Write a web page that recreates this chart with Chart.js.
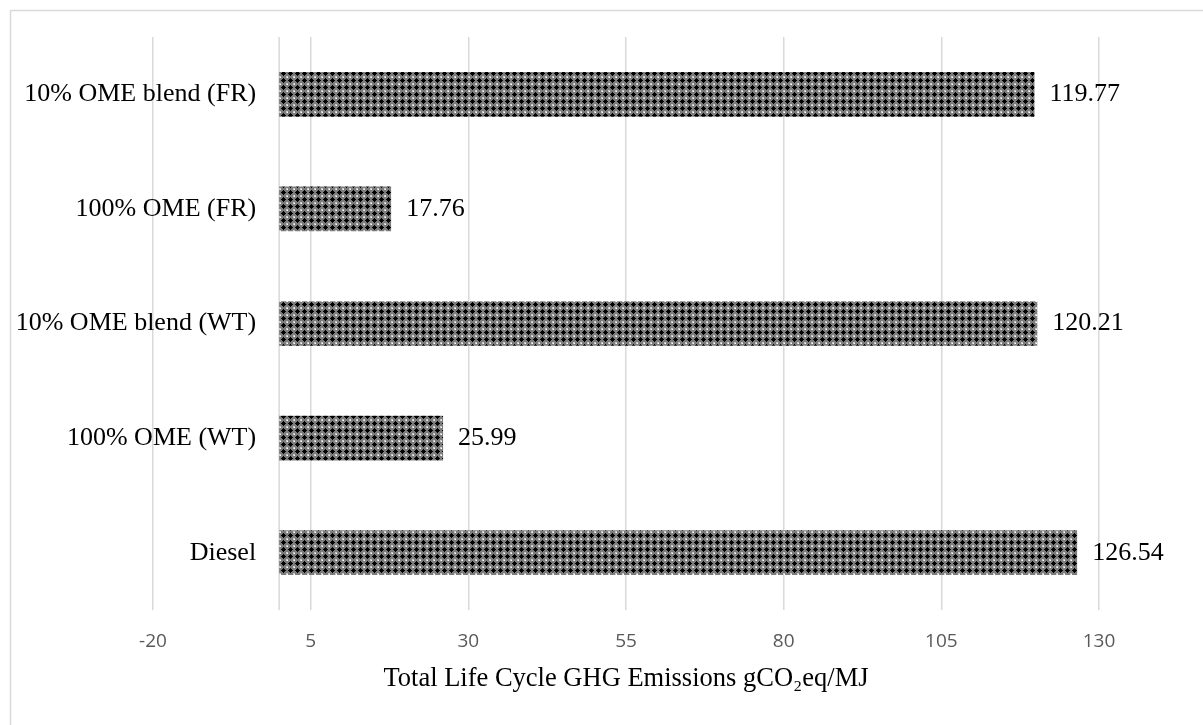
<!DOCTYPE html>
<html>
<head>
<meta charset="utf-8">
<script src="https://cdn.jsdelivr.net/npm/chart.js@4.4.0/dist/chart.umd.min.js"></script>
<style>
  html, body { margin:0; padding:0; background:#fff; }
</style>
</head>
<body>
<canvas id="chart" width="1203" height="725"></canvas>
<script>
// ---------------- DATA ----------------
const categories = ['10% OME blend (FR)', '100% OME (FR)', '10% OME blend (WT)', '100% OME (WT)', 'Diesel'];
const emissions = [119.77, 17.76, 120.21, 25.99, 126.54];
const xMin = -20;
const xMax = 130;
const xStep = 25;
const axisTitle = 'Total Life Cycle GHG Emissions gCO₂eq/MJ';

// ---------------- PATTERN ----------------
// black crosses on grey with small white dots between them
function makePattern(){
    const c = document.createElement('canvas');
    c.width = 7; c.height = 7;
    const p = c.getContext('2d');
    p.fillStyle = '#7c7c7c';
    p.fillRect(0,0,7,7);
    p.fillStyle = '#000';
    p.fillRect(3,1,1,5);
    p.fillRect(1,3,5,1);
    p.fillRect(2,2,3,3);
    p.fillStyle = '#fff';
    p.fillRect(0,0,1,1);
    p.fillStyle = '#c8c8c8';
    p.fillRect(6,0,1,1); p.fillRect(0,6,1,1); p.fillRect(6,6,1,1);
    return p.createPattern(c, 'repeat');
}

const serif = '"Liberation Serif", "Times New Roman", serif';

// frame, zero line and text labels
const labelsPlugin = {
    id: 'labelsPlugin',
    beforeDraw(chart){
        const ctx = chart.ctx;
        ctx.save();
        ctx.strokeStyle = '#d9d9d9';
        ctx.lineWidth = 1.5;
        ctx.strokeRect(10.5, 10.5, 1300, 900);
        ctx.restore();
    },
    beforeDatasetsDraw(chart){
        const {ctx, chartArea, scales:{x}} = chart;
        const x0 = x.getPixelForValue(0);
        ctx.save();
        ctx.strokeStyle = '#d9d9d9';
        ctx.lineWidth = 1.5;
        ctx.beginPath();
        ctx.moveTo(x0, chartArea.top);
        ctx.lineTo(x0, chartArea.bottom);
        ctx.stroke();
        ctx.restore();
    },
    afterDatasetsDraw(chart){
        const {ctx, scales:{x, y}} = chart;
        const x0 = x.getPixelForValue(0);
        const meta = chart.getDatasetMeta(0);
        ctx.save();
        ctx.font = '26px ' + serif;
        ctx.fillStyle = '#000';
        ctx.textBaseline = 'middle';
        categories.forEach((c, i) => {
            ctx.textAlign = 'right';
            ctx.fillText(c, x0 - 23, y.getPixelForValue(i));
        });
        meta.data.forEach((bar, i) => {
            ctx.textAlign = 'left';
            ctx.fillText(emissions[i].toFixed(2), bar.x + 15, bar.y);
        });
        ctx.restore();
    }
};

new Chart(document.getElementById('chart').getContext('2d'), {
    type: 'bar',
    data: {
        labels: categories,
        datasets: [{
            data: emissions,
            backgroundColor: makePattern(),
            borderWidth: 0,
            barPercentage: 0.39,
            categoryPercentage: 1
        }]
    },
    options: {
        indexAxis: 'y',
        responsive: false,
        animation: false,
        layout: { padding: { left: 153, right: 104, top: 37, bottom: 0 } },
        plugins: {
            legend: { display: false },
            tooltip: { enabled: false }
        },
        scales: {
            x: {
                min: xMin,
                max: xMax,
                ticks: {
                    stepSize: xStep,
                    color: '#595959',
                    font: { family: '"Open Sans", sans-serif', size: 19 },
                    padding: 20
                },
                grid: { color: '#d9d9d9', lineWidth: 1.5, drawTicks: false },
                border: { display: false },
                title: {
                    display: true,
                    text: axisTitle,
                    color: '#000',
                    font: { family: serif, size: 26.5 },
                    padding: { top: 0, bottom: 30 }
                },
                afterFit(scale){ scale.height = 115; }
            },
            y: {
                display: false
            }
        }
    },
    plugins: [labelsPlugin]
});
</script>
</body>
</html>
